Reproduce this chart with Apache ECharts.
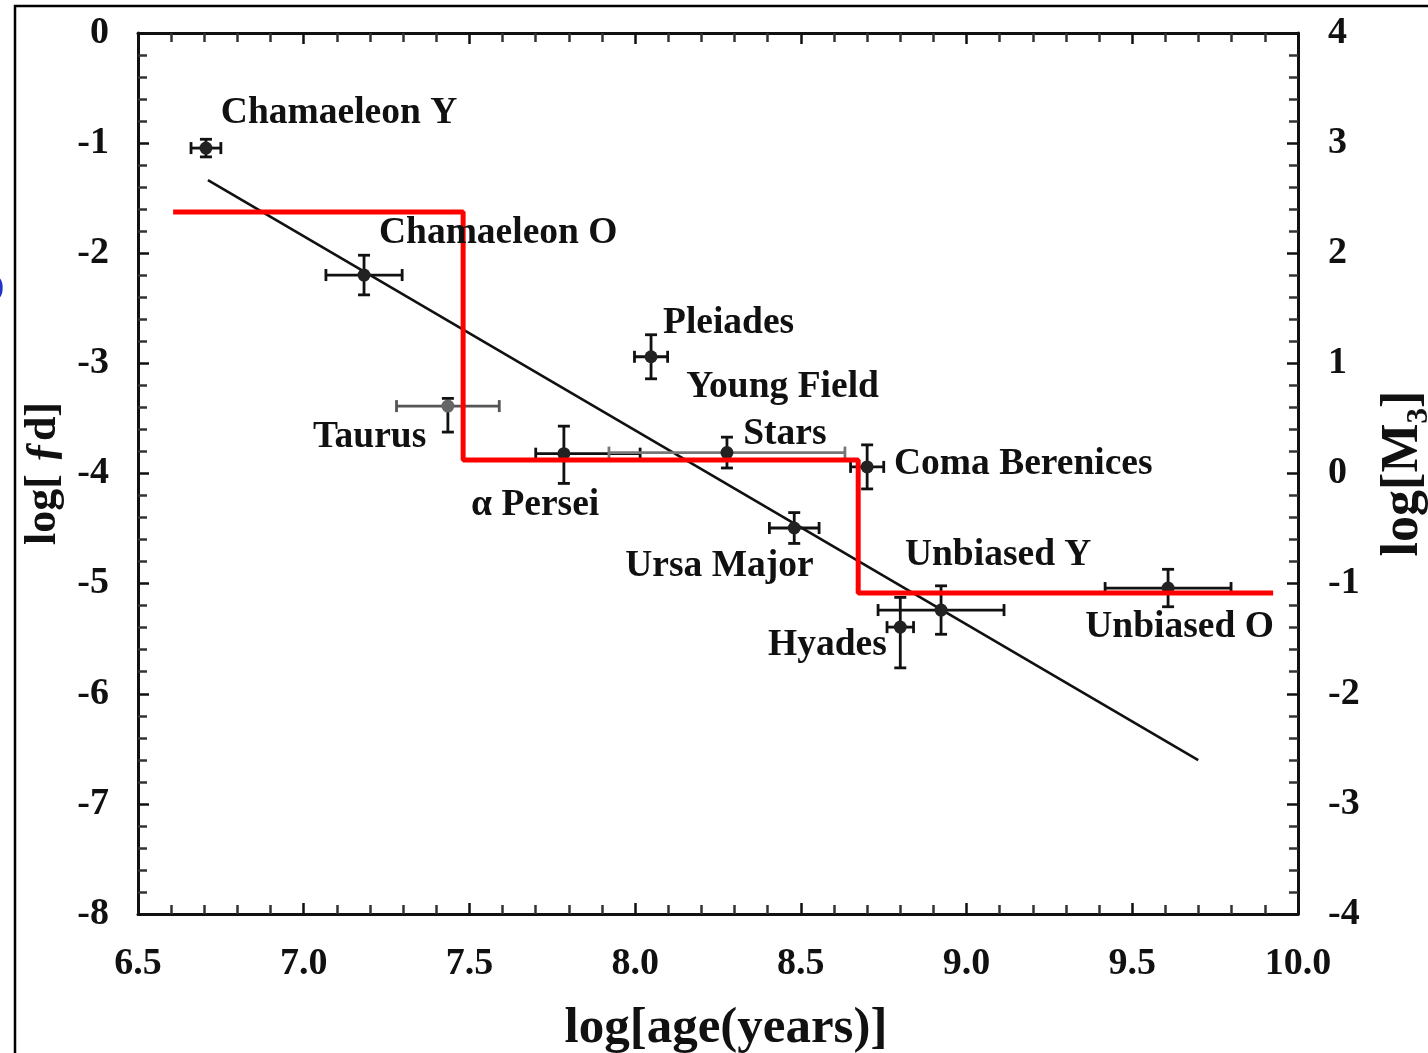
<!DOCTYPE html>
<html><head><meta charset="utf-8">
<script src="https://cdn.jsdelivr.net/npm/echarts@6/dist/echarts.min.js"></script>
<style>html,body{margin:0;padding:0;background:#fff}#c{width:1428px;height:1053px}</style>
</head><body><div id="c"></div>
<script>
// ---- data ----
const clusterNames = ['Chamaeleon Y','Chamaeleon O','Taurus','α Persei','Pleiades','Young Field Stars','Coma Berenices','Ursa Major','Hyades','Unbiased Y','Unbiased O'];
const logAge   = [6.705, 7.182, 7.435, 7.785, 8.048, 8.277, 8.700, 8.480, 8.800, 8.923, 9.608];
const logFd    = [-1.045, -2.198, -3.388, -3.820, -2.940, -3.810, -3.940, -4.495, -5.395, -5.240, -5.040];
const xErrLo   = [0.045, 0.115, 0.155, 0.085, 0.050, 0.356, 0.050, 0.075, 0.040, 0.190, 0.190];
const xErrHi   = [0.045, 0.115, 0.155, 0.230, 0.050, 0.356, 0.050, 0.075, 0.040, 0.190, 0.190];
const yErrLo   = [0.080, 0.180, 0.236, 0.270, 0.200, 0.140, 0.200, 0.140, 0.370, 0.220, 0.170];
const yErrHi   = [0.080, 0.180, 0.070, 0.250, 0.200, 0.140, 0.200, 0.140, 0.270, 0.220, 0.170];

const fitX = [6.711, 9.699];
const fitY = [-1.335, -6.603];

const stepX = [6.606, 7.481, 7.481, 8.673, 8.673, 9.925];
const stepY = [-1.626, -1.626, -3.878, -3.878, -5.086, -5.086];

const labelText = ['Chamaeleon Y','Chamaeleon O','Pleiades','Young Field','Stars','Coma Berenices','Taurus','α Persei','Ursa Major','Unbiased Y','Hyades','Unbiased O'];
const labelX    = [6.750, 7.227, 8.084, 8.154, 8.326, 8.781, 7.028, 7.505, 7.970, 8.814, 8.401, 9.358];
const labelY    = [-0.727, -1.816, -2.634, -3.215, -3.642, -3.915, -3.669, -4.287, -4.841, -4.741, -5.559, -5.395];

// ---- styles ----
const FONT = '"Liberation Serif", "Times New Roman", "DejaVu Serif", serif';
const INK = '#111';
const hBarColor = { 'Taurus': '#555', 'Young Field Stars': '#777' };

const chart = echarts.init(document.getElementById('c'), null, { renderer: 'canvas' });

const tickLabel = { fontFamily: FONT, fontWeight: 'bold', fontSize: 38, color: INK };

function axisBase(extra) {
  return Object.assign({
    type: 'value',
    axisLine: { show: true, onZero: false, lineStyle: { color: INK, width: 3 } },
    axisTick: { show: true, inside: true, length: 11, lineStyle: { color: INK, width: 2.5 } },
    minorTick: { show: true, splitNumber: 5, length: 9, lineStyle: { color: '#333', width: 2.5 } },
    splitLine: { show: false },
    minorSplitLine: { show: false }
  }, extra);
}

const errData = clusterNames.map((n, i) => [logAge[i], logFd[i], xErrLo[i], xErrHi[i], yErrLo[i], yErrHi[i]]);

function renderErr(params, api) {
  const i = params.dataIndex;
  const x = api.value(0), y = api.value(1);
  const c = api.coord([x, y]);
  const l = api.coord([x - api.value(2), y]);
  const r = api.coord([x + api.value(3), y]);
  const d = api.coord([x, y - api.value(4)]);
  const u = api.coord([x, y + api.value(5)]);
  const hc = hBarColor[clusterNames[i]] || INK;
  const cap = 6, lw = 2.8;
  const ln = (x1, y1, x2, y2, col) => ({ type: 'line', shape: { x1, y1, x2, y2 }, style: { stroke: col, lineWidth: lw } });
  return {
    type: 'group',
    children: [
      ln(l[0], c[1], r[0], c[1], hc),
      ln(l[0], c[1] - cap, l[0], c[1] + cap, hc),
      ln(r[0], c[1] - cap, r[0], c[1] + cap, hc),
      ln(c[0], u[1], c[0], d[1], INK),
      ln(c[0] - cap, u[1], c[0] + cap, u[1], INK),
      ln(c[0] - cap, d[1], c[0] + cap, d[1], INK),
      { type: 'circle', shape: { cx: c[0], cy: c[1], r: 6.5 }, style: { fill: hc === '#555' ? '#666' : '#222' } }
    ]
  };
}

function renderLabel(params, api) {
  const i = params.dataIndex;
  const p = api.coord([api.value(0), api.value(1)]);
  return {
    type: 'text', x: p[0], y: p[1],
    style: { text: labelText[i], font: 'bold 37.5px ' + FONT, fill: INK, textAlign: 'left', textVerticalAlign: 'middle' }
  };
}

chart.setOption({
  animation: false,
  backgroundColor: '#fff',
  grid: { left: 138, right: 130, top: 33, bottom: 139, containLabel: false, outerBoundsMode: 'none' },
  xAxis: [
    axisBase({
      min: 6.5, max: 10, interval: 0.5, position: 'bottom',
      axisLabel: Object.assign({ margin: 31, formatter: v => v.toFixed(1) }, tickLabel),
      name: 'log[age(years)]', nameLocation: 'middle', nameGap: 89,
      nameTextStyle: { fontFamily: FONT, fontWeight: 'bold', fontSize: 51, color: INK, padding: [0, 0, 0, 16] }
    }),
    axisBase({ min: 6.5, max: 10, interval: 0.5, position: 'top', axisLabel: { show: false } })
  ],
  yAxis: [
    axisBase({
      min: -8, max: 0, interval: 1, position: 'left',
      axisLabel: Object.assign({ margin: 29 }, tickLabel),
      name: 'log[ ƒd]', nameLocation: 'middle', nameRotate: 90, nameGap: 72,
      nameTextStyle: { fontFamily: FONT, fontWeight: 'bold', fontSize: 44, color: INK }
    }),
    axisBase({
      min: -4, max: 4, interval: 1, position: 'right',
      axisLabel: Object.assign({ margin: 30 }, tickLabel),
      name: 'log[M₃]', nameLocation: 'middle', nameRotate: 90, nameGap: 80,
      nameTextStyle: { fontFamily: FONT, fontWeight: 'bold', fontSize: 52, color: INK }
    })
  ],
  graphic: [
    { type: 'rect', x: 15, y: 6, shape: { x: 0, y: 0, width: 1500, height: 1200 }, style: { fill: 'transparent', stroke: '#000', lineWidth: 2.5 }, silent: true },
    { type: 'text', x: -6, y: 272, style: { text: ')', font: '30px ' + FONT, fill: '#2233cc' }, silent: true }
  ],
  series: [
    {
      type: 'line', name: 'fit', data: fitX.map((x, i) => [x, fitY[i]]),
      symbol: 'none', lineStyle: { color: INK, width: 2.6 }, z: 2
    },
    {
      type: 'custom', name: 'clusters', renderItem: renderErr, data: errData,
      encode: { x: 0, y: 1 }, z: 3
    },
    {
      type: 'line', name: 'steps', data: stepX.map((x, i) => [x, stepY[i]]),
      symbol: 'none', lineStyle: { color: '#ff0000', width: 5 }, z: 4
    },
    {
      type: 'custom', name: 'labels', renderItem: renderLabel,
      data: labelText.map((t, i) => [labelX[i], labelY[i]]), encode: { x: 0, y: 1 }, z: 5
    }
  ]
});
</script>
</body></html>
